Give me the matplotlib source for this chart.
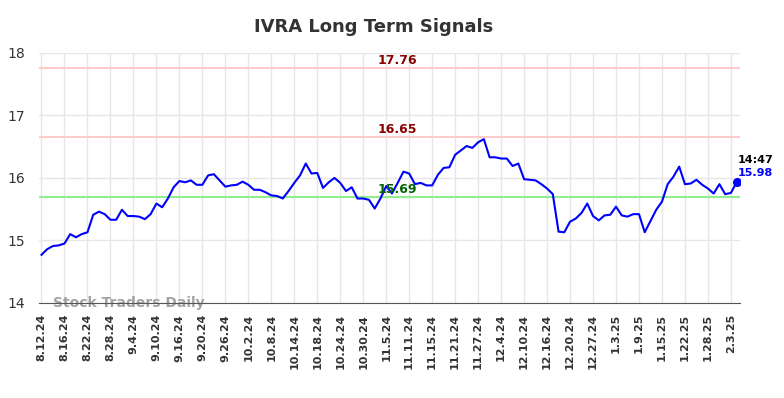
import matplotlib
matplotlib.use("Agg")
import matplotlib.pyplot as plt

# --- Data (one point per trading day) ---
prices = [
    14.77, 14.86, 14.91, 14.92, 14.95, 15.10, 15.05, 15.10, 15.13, 15.41,
    15.46, 15.42, 15.33, 15.33, 15.49, 15.39, 15.39, 15.38, 15.34, 15.42,
    15.59, 15.53, 15.67, 15.85, 15.95, 15.93, 15.96, 15.89, 15.89, 16.04,
    16.06, 15.96, 15.86, 15.88, 15.89, 15.94, 15.89, 15.81, 15.81, 15.77,
    15.72, 15.71, 15.67, 15.79, 15.92, 16.04, 16.23, 16.07, 16.08, 15.84,
    15.93, 16.00, 15.92, 15.79, 15.85, 15.67, 15.67, 15.65, 15.51, 15.67,
    15.87, 15.75, 15.92, 16.10, 16.07, 15.90, 15.92, 15.88, 15.88, 16.05,
    16.16, 16.17, 16.37, 16.44, 16.51, 16.48, 16.57, 16.62, 16.33, 16.33,
    16.31, 16.31, 16.19, 16.23, 15.98, 15.97, 15.96, 15.90, 15.83, 15.74,
    15.14, 15.13, 15.30, 15.35, 15.44, 15.59, 15.39, 15.32, 15.40, 15.41,
    15.54, 15.40, 15.38, 15.42, 15.42, 15.13, 15.31, 15.49, 15.62, 15.90,
    16.02, 16.18, 15.90, 15.91, 15.97, 15.89, 15.83, 15.75, 15.90, 15.74,
    15.76, 15.93,
]
tick_labels = [
    "8.12.24", "8.16.24", "8.22.24", "8.28.24", "9.4.24", "9.10.24", "9.16.24",
    "9.20.24", "9.26.24", "10.2.24", "10.8.24", "10.14.24", "10.18.24",
    "10.24.24", "10.30.24", "11.5.24", "11.11.24", "11.15.24", "11.21.24",
    "11.27.24", "12.4.24", "12.10.24", "12.16.24", "12.20.24", "12.27.24",
    "1.3.25", "1.9.25", "1.15.25", "1.22.25", "1.28.25", "2.3.25",
]
resistance = [17.76, 16.65]
support = [15.69]
last_time = "14:47"
last_label = "15.98"

fig = plt.figure(figsize=(7.84, 3.98), dpi=100)
ax = fig.add_axes([0.050, 0.239, 0.894, 0.628])

x = list(range(len(prices)))
ax.plot(x, prices, color="#0000ff", lw=1.5, zorder=3)
ax.plot(x[-1], prices[-1], "o", color="#0000ff", ms=5.5, zorder=4)

for lvl in resistance:
    ax.axhline(lvl, color="#ffcccc", lw=1.5, zorder=2)
    ax.text(62, lvl + 0.015, f"{lvl:.2f}", color="#8b0000", fontsize=9,
            fontweight="bold", ha="center", va="bottom", zorder=5)
for lvl in support:
    ax.axhline(lvl, color="#90ee90", lw=1.5, zorder=2)
    ax.text(62, lvl + 0.015, f"{lvl:.2f}", color="#006400", fontsize=9,
            fontweight="bold", ha="center", va="bottom", zorder=5)

ax.text(x[-1] + 0.1, prices[-1] + 0.36, last_time, fontsize=8,
        fontweight="bold", color="black", ha="left", va="center")
ax.text(x[-1] + 0.1, prices[-1] + 0.15, last_label, fontsize=8,
        fontweight="bold", color="#0000ff", ha="left", va="center")

ax.text(2, 14.0, "Stock Traders Daily", fontsize=10, fontweight="bold",
        color="#999999", alpha=0.9, ha="left", va="center", zorder=1)

ax.set_xlim(-0.4, 121.6)
ax.set_ylim(14, 18)
ax.set_yticks([14, 15, 16, 17, 18])
ax.set_xticks(list(range(0, 4 * len(tick_labels), 4)))
ax.set_xticklabels(tick_labels, rotation=90, fontsize=8, fontweight="bold")
ax.tick_params(axis="both", length=0, colors="#333333")
ax.tick_params(axis="y", labelsize=10, pad=10)
ax.tick_params(axis="x", pad=8)
ax.grid(True, color="#e6e6e6", lw=1)
ax.set_axisbelow(True)
for s in ["top", "right", "left"]:
    ax.spines[s].set_visible(False)
ax.spines["bottom"].set_color("#555555")

fig.suptitle("IVRA Long Term Signals", fontsize=13, fontweight="bold",
             color="#333333", x=0.477, y=0.955)

fig.savefig("out.png", dpi=100)
